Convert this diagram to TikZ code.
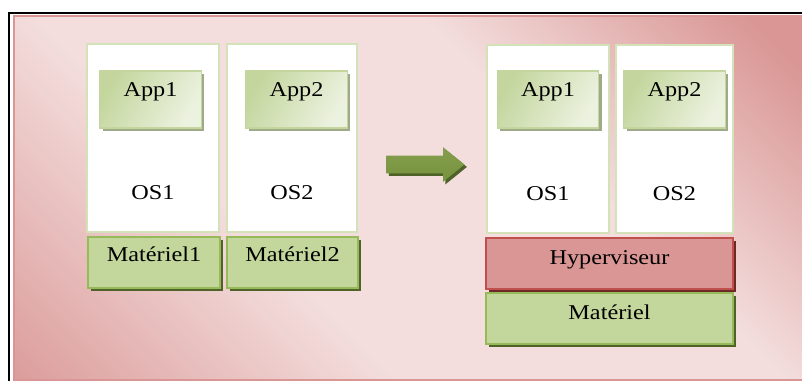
\documentclass[tikz,border=0pt]{standalone}
\usepackage{fontspec}
\setmainfont{Liberation Serif}[FakeStretch=1.15]
\definecolor{pinkdark}{RGB}{217, 150, 148}
\definecolor{pinkmid}{RGB}{230, 184, 183}
\definecolor{pinklight}{RGB}{243, 222, 221}
\definecolor{osborder}{RGB}{212, 226, 185}
\definecolor{appdark}{RGB}{196, 214, 158}
\definecolor{applight}{RGB}{236, 242, 224}
\definecolor{appshadow}{RGB}{158, 170, 136}
\definecolor{hwfill}{RGB}{195, 214, 155}
\definecolor{hwborder}{RGB}{150, 185, 90}
\definecolor{hwshadow}{RGB}{79, 98, 40}
\definecolor{hypfill}{RGB}{217, 150, 148}
\definecolor{hypborder}{RGB}{192, 80, 77}
\definecolor{hypshadow}{RGB}{110, 40, 38}
\definecolor{arrowgreen}{RGB}{119, 147, 60}
\definecolor{arrowlight}{RGB}{155, 187, 89}
\usepackage{tikz}
\usetikzlibrary{shapes.arrows, shadows, positioning}

\pgfdeclarehorizontalshading{pinkband}{100bp}{color(0bp)=(pinkdark); color(12bp)=(pinkdark); color(38bp)=(pinklight); color(62bp)=(pinklight); color(82bp)=(pinkdark); color(100bp)=(pinkdark)}

\tikzset{
  boxfont/.style={font=\fontsize{12}{14}\selectfont},
  toptext/.style 2 args={label={[boxfont, anchor=base, yshift=-#2]north:#1}},
  osbox/.style={draw=osborder, line width=1pt, fill=white, minimum height=3.76cm,
    general shadow={fill=osborder!85!black, shadow xshift=0.8pt, shadow yshift=-0.8pt}},
  appbox/.style={draw=appdark, line width=0.8pt, left color=appdark, right color=applight,
    shading angle=60, minimum width=2.03cm, minimum height=1.14cm,
    general shadow={fill=appshadow, shadow xshift=1.6pt, shadow yshift=-1.6pt}},
  hwbox/.style={draw=hwborder, line width=1pt, fill=hwfill, minimum height=1.02cm,
    general shadow={fill=hwshadow, shadow xshift=1.6pt, shadow yshift=-1.6pt}},
  hypbox/.style={draw=hypborder, line width=1pt, fill=hypfill, minimum height=1.02cm,
    general shadow={fill=hypshadow, shadow xshift=1.6pt, shadow yshift=-1.6pt}},
  bigarrow/.style={single arrow, inner xsep=0pt, inner ysep=0.17cm, minimum height=1.56cm,
    single arrow head extend=0.17cm, single arrow tip angle=78,
    top color=arrowgreen!90, middle color=arrowlight, bottom color=arrowgreen,
    general shadow={fill=hwshadow, shadow xshift=1.4pt, shadow yshift=-1.4pt}}
}

\begin{document}
\begin{tikzpicture}[x=0.02cm, y=-0.02cm]
  \useasboundingbox (0,0) rectangle (802,381);

  % Background
  \begin{scope}
    \clip (0,0) rectangle (802,381);
    \shade[shading=pinkband, shading angle=45] (14,16) rectangle (806,380);
    \draw[pinkdark, line width=0.9pt] (14,16) rectangle (806,380);
    \draw[black, line width=1.6pt] (9,13) rectangle (812,400);
  \end{scope}

  % Before: two machines
  \node[osbox, minimum width=2.64cm, toptext={OS1}{3.12cm}] (osA) at (153,138) {};
  \node[osbox, minimum width=2.60cm, toptext={OS2}{3.12cm}] (osB) at (292,138) {};
  \node[appbox, toptext={App1}{0.52cm}] (appA) at (150.5,99.5) {};
  \node[appbox, toptext={App2}{0.52cm}] (appB) at (296.5,99.5) {};
  \node[hwbox, minimum width=2.64cm, toptext={Matériel1}{0.5cm}] (hwA) at (154,262.5) {};
  \node[hwbox, minimum width=2.62cm, toptext={Matériel2}{0.5cm}] (hwB) at (292.5,262.5) {};

  % Arrow
  \node[bigarrow] (step) at (420,164.5) {};

  % After: hypervisor
  \node[osbox, minimum width=2.44cm, toptext={OS1}{3.12cm}] (vmA) at (548,139) {};
  \node[osbox, minimum width=2.34cm, toptext={OS2}{3.12cm}] (vmB) at (674.5,139) {};
  \node[appbox, toptext={App1}{0.52cm}] (vappA) at (548,99.5) {};
  \node[appbox, toptext={App2}{0.52cm}] (vappB) at (674.5,99.5) {};
  \node[hypbox, minimum width=4.94cm, toptext={Hyperviseur}{0.54cm}] (hyp) at (609.5,263.5) {};
  \node[hwbox, minimum width=4.94cm, toptext={Matériel}{0.54cm}] (hw) at (609.5,318.5) {};
\end{tikzpicture}
\end{document}
